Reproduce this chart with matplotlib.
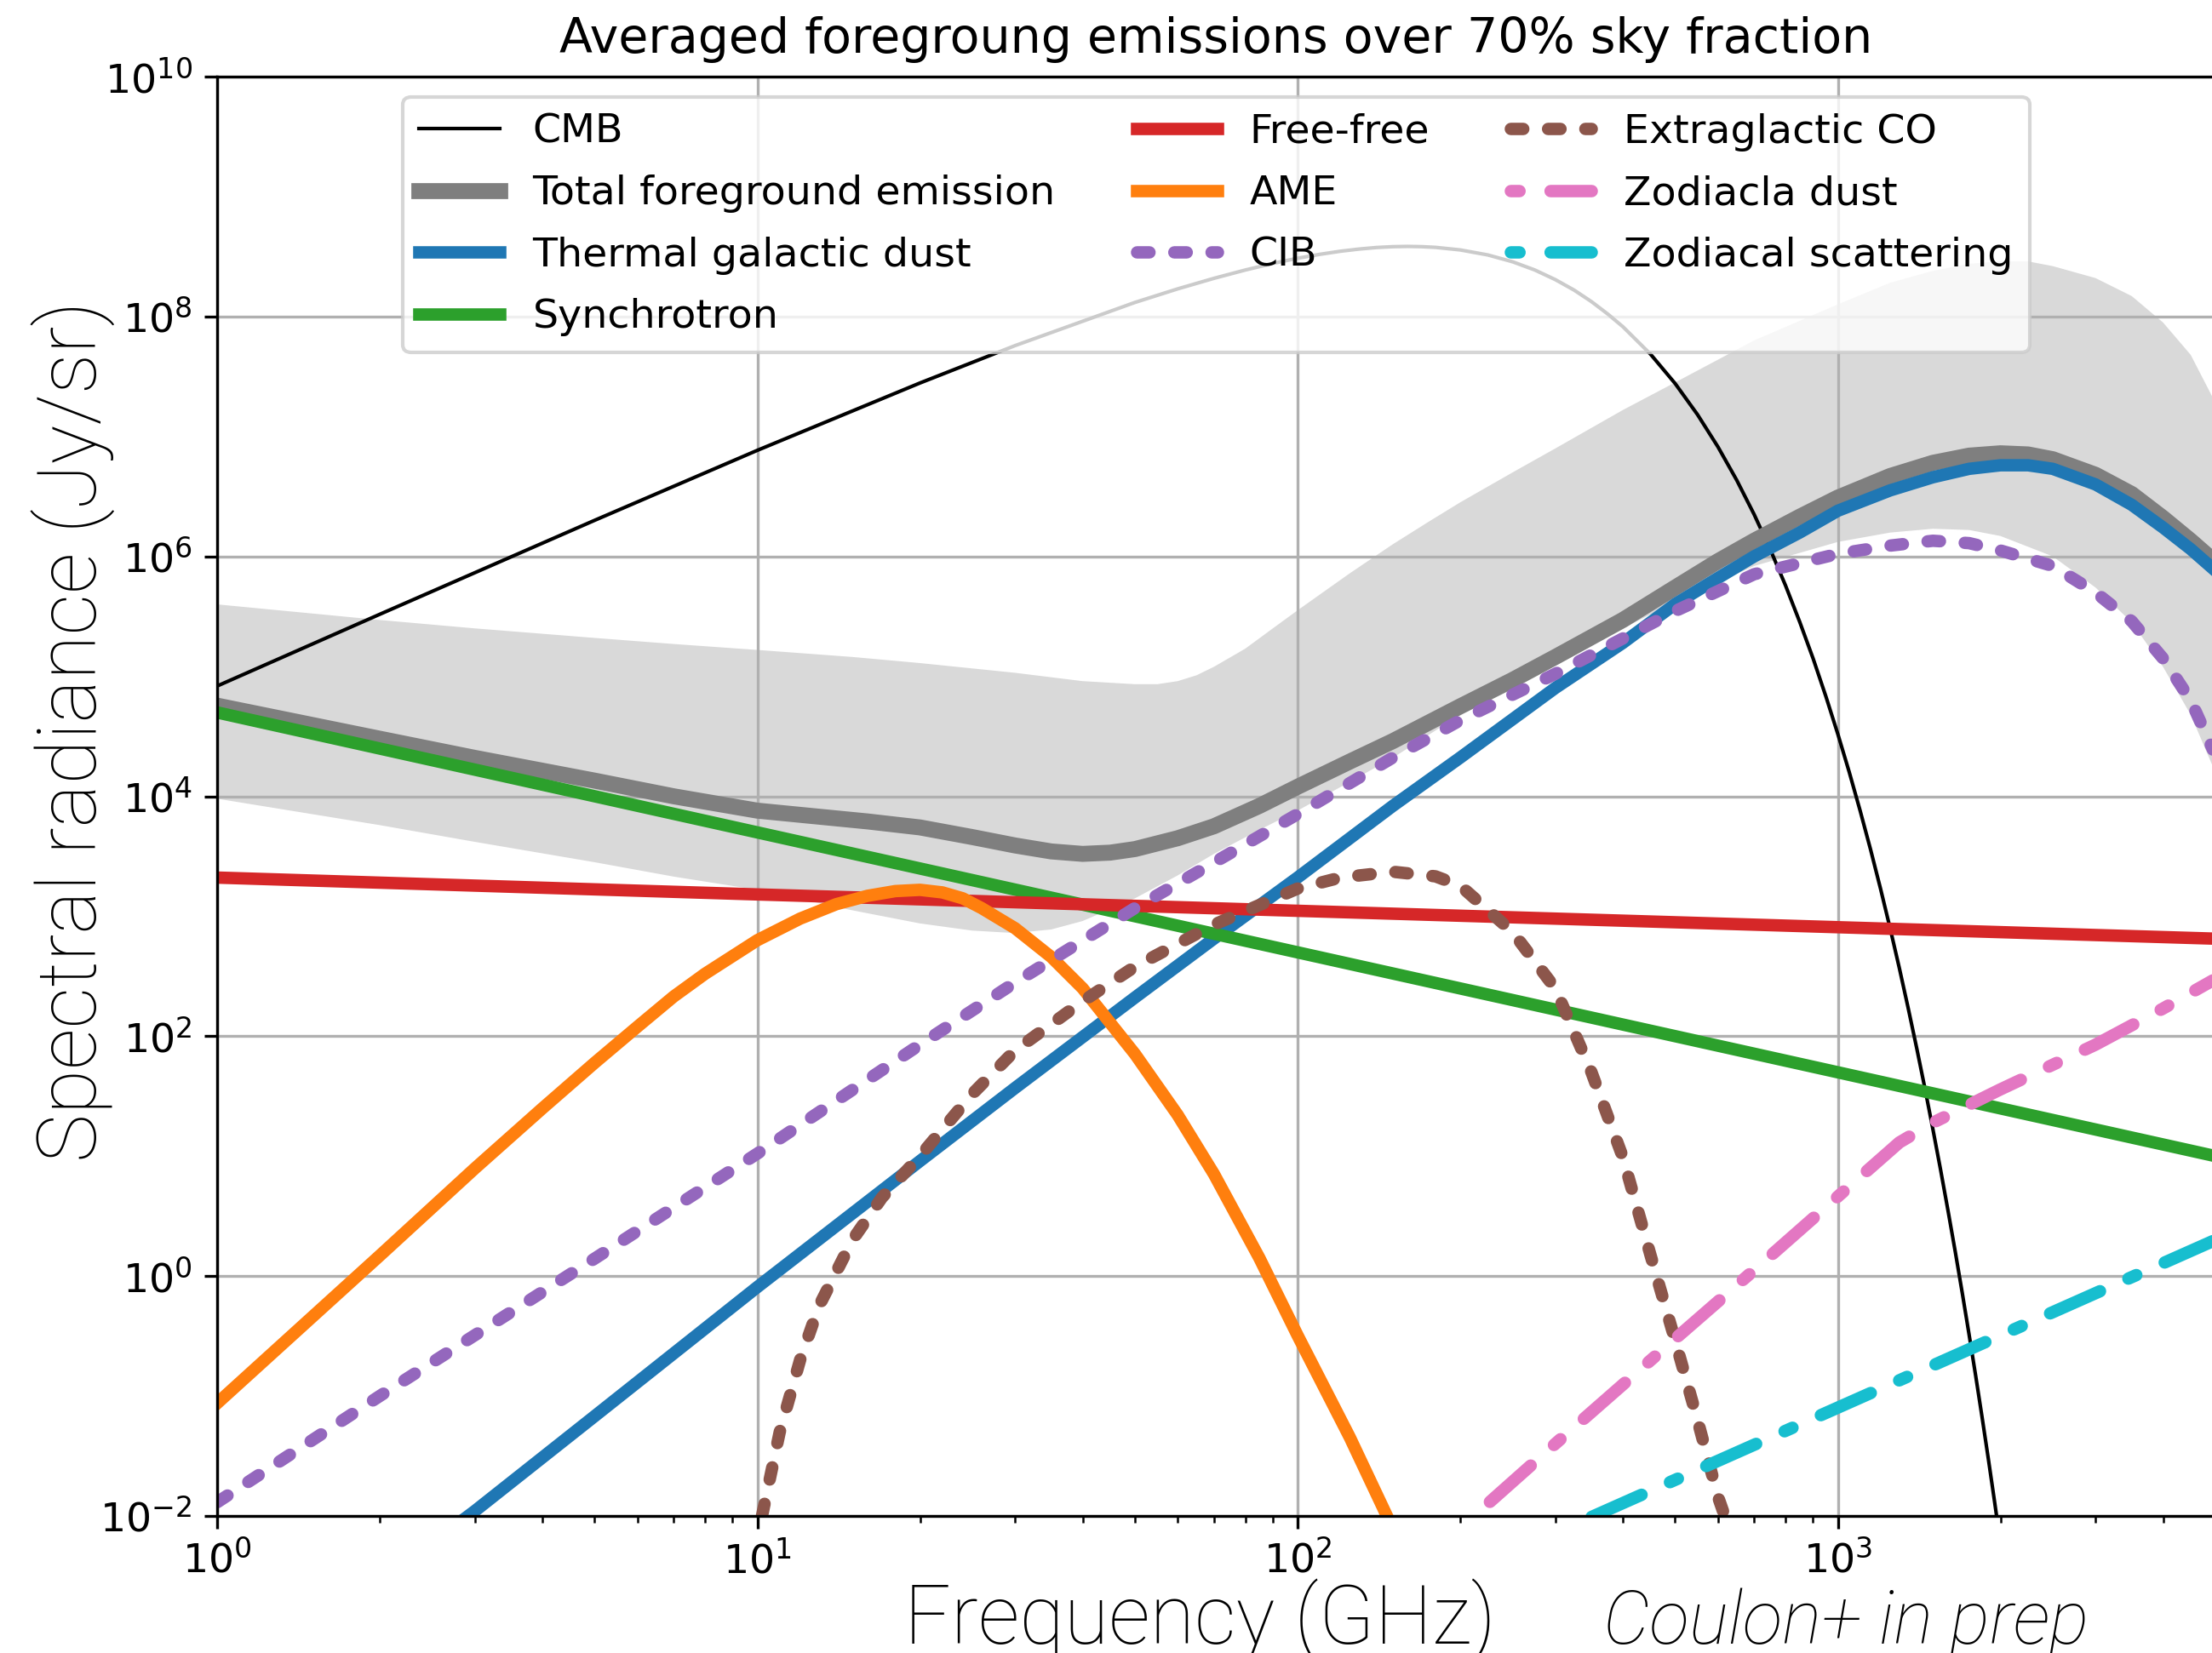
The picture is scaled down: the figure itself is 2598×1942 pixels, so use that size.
import matplotlib
matplotlib.use("Agg")
import matplotlib.pyplot as plt
from matplotlib import ticker

W, H, DPI = 2598, 1942, 300

# ---------------- data ----------------
cmb_nu = [1, 2, 5, 10, 20, 30, 50, 60, 70, 80, 90, 100, 110, 120, 130, 140, 150, 160, 170,
          180, 200, 225, 250, 275, 300, 325, 350, 375, 400, 450, 500, 550, 600, 650, 700,
          750, 800, 850, 900, 950, 1000, 1050, 1100, 1150, 1200, 1250, 1300, 1350, 1400,
          1450, 1500, 1550, 1600, 1650, 1700, 1750, 1800, 1850, 1900, 1950, 2000]
cmb_val = [8.30e4, 3.29e5, 2.00e6, 7.66e6, 2.79e7, 5.72e7, 1.31e8, 1.70e8, 2.08e8, 2.44e8,
           2.77e8, 3.06e8, 3.30e8, 3.50e8, 3.65e8, 3.76e8, 3.82e8, 3.84e8, 3.82e8,
           3.77e8, 3.59e8, 3.26e8, 2.86e8, 2.44e8, 2.03e8, 1.66e8, 1.33e8, 1.05e8, 8.23e7,
           4.86e7, 2.76e7, 1.52e7, 8.19e6, 4.32e6, 2.24e6, 1.14e6, 5.74e5, 2.85e5, 1.41e5,
           6.85e4, 3.31e4, 1.59e4, 7.57e3, 3.59e3, 1.69e3, 791, 369, 171, 79.2,
           36.5, 16.7, 7.66, 3.49, 1.59, 0.720, 0.325, 0.147, 0.0661, 0.0297, 0.0133, 5.95e-3]

tot_nu = [1, 2, 3, 5, 7, 10, 13, 16, 20, 25, 30, 35, 40, 45, 50, 60, 70, 85, 100, 125, 150,
          200, 250, 300, 400, 500, 600, 700, 850, 1000, 1250, 1500, 1750, 2000, 2250, 2500,
          3000, 3500, 4000, 4500, 5000]
tot_val = [5.70e4, 3.02e4, 2.09e4, 1.35e4, 1.00e4, 7.59e3, 6.76e3, 6.17e3, 5.50e3, 4.57e3,
           3.89e3, 3.47e3, 3.31e3, 3.39e3, 3.63e3, 4.47e3, 5.62e3, 8.32e3, 1.20e4, 1.95e4,
           2.88e4, 5.62e4, 9.33e4, 1.45e5, 2.95e5, 5.50e5, 9.12e5, 1.35e6, 2.14e6, 3.09e6,
           4.68e6, 6.03e6, 6.92e6, 7.24e6, 7.08e6, 6.46e6, 4.79e6, 3.31e6, 2.09e6, 1.35e6,
           8.91e5]

band_hi_nu = [1, 2, 3, 5, 7, 10, 15, 20, 30, 40, 50, 55, 60, 65, 70, 80, 90, 100, 125, 150,
              175, 200, 250, 300, 400, 500, 700, 1000, 1250, 1500, 1750, 2000, 2250, 2500,
              3000, 3500, 4000, 4500, 5000]
band_hi_val = [3.98e5, 2.95e5, 2.51e5, 2.09e5, 1.86e5, 1.66e5, 1.45e5, 1.29e5, 1.07e5,
               9.12e4, 8.60e4, 8.60e4, 9.12e4, 1.02e5, 1.20e5, 1.70e5, 2.51e5, 3.55e5,
               7.24e5, 1.26e6, 1.95e6, 2.82e6, 5.01e6, 7.94e6, 1.66e7, 2.82e7, 6.31e7,
               1.26e8, 1.91e8, 2.40e8, 2.75e8, 2.88e8, 2.88e8, 2.63e8, 2.09e8, 1.48e8,
               8.91e7, 4.79e7, 1.91e7]
band_lo_nu = [1, 2, 3, 5, 7, 10, 15, 20, 25, 30, 35, 40, 50, 60, 70, 85, 100, 125, 150, 200,
              250, 300, 400, 500, 700, 1000, 1250, 1500, 1750, 2000, 2500, 3000, 3500, 4000,
              4500, 5000]
band_lo_val = [9.55e3, 5.75e3, 4.17e3, 2.82e3, 2.14e3, 1.66e3, 1.12e3, 871, 759, 724, 776,
               912, 1.41e3, 2.19e3, 3.31e3, 5.25e3, 7.59e3, 1.32e4, 2.09e4, 4.79e4, 8.32e4,
               1.26e5, 2.51e5, 4.17e5, 8.32e5, 1.32e6, 1.58e6, 1.70e6, 1.66e6, 1.48e6,
               1.00e6, 5.50e5, 2.82e5, 1.20e5, 4.79e4, 1.58e4]

dust_nu = [2, 3, 5, 10, 20, 30, 50, 70, 100, 150, 200, 300, 400, 500, 600, 700, 850, 1000,
           1250, 1500, 1750, 2000, 2250, 2500, 3000, 3500, 4000, 4500, 5000]
dust_val = [2.8e-3, 1.1e-2, 6.8e-2, 0.81, 9.1, 37, 210, 650, 2.1e3, 8.3e3, 2.1e4, 8.0e4,
            1.9e5, 4.0e5, 6.6e5, 1.0e6, 1.58e6, 2.40e6, 3.55e6, 4.57e6, 5.37e6, 5.75e6,
            5.75e6, 5.37e6, 3.98e6, 2.69e6, 1.74e6, 1.15e6, 7.59e5]

sync_nu = [1, 10, 100, 1000, 5000]
sync_val = [5.0e4, 5.0e3, 5.0e2, 50, 10]

ff_nu = [1, 10, 100, 1000, 5000]
ff_val = [2100, 1520, 1110, 810, 650]

ame_nu = [1, 2, 3, 4, 5, 6, 7, 8, 10, 12, 14, 16, 18, 20, 22, 24, 26, 30, 35, 40, 50, 60,
          70, 85, 100, 125, 150]
ame_val = [0.087, 1.48, 7.9, 25, 60, 120, 214, 331, 631, 955, 1.26e3, 1.48e3, 1.62e3,
           1.66e3, 1.58e3, 1.41e3, 1.17e3, 794, 457, 251, 71, 22, 7.1, 1.41, 0.32, 0.045,
           7.9e-3]

cib_nu = [1, 2, 5, 10, 20, 30, 50, 70, 100, 150, 200, 300, 500, 700, 1000, 1250, 1500,
          1750, 2000, 2500, 3000, 3500, 4000, 4500, 5000]
cib_val = [1.3e-2, 0.10, 1.4, 10.5, 85, 280, 1.17e3, 2.8e3, 7.1e3, 2.1e4, 4.3e4, 1.05e5,
           3.5e5, 7.1e5, 1.05e6, 1.23e6, 1.35e6, 1.29e6, 1.12e6, 8.32e5, 5.0e5, 2.88e5,
           1.41e5, 6.31e4, 2.2e4]

co_nu = [10.2, 11, 12, 13, 15, 17, 20, 25, 30, 40, 50, 70, 100, 120, 150, 180, 200, 250,
         300, 350, 400, 450, 500, 550, 600, 640]
co_val = [1.0e-2, 5.0e-2, 0.2, 0.56, 2.0, 4.5, 10, 33, 76, 195, 380, 850, 1.7e3, 2.1e3,
          2.35e3, 2.15e3, 1.8e3, 740, 250, 50, 9.8, 1.5, 0.29, 0.063, 0.0145, 6.3e-3]

zd_nu = [200, 300, 500, 700, 1000, 1300, 1500, 2000, 3000, 4000, 5000]
zd_val = [7.9e-3, 0.04, 0.30, 1.12, 4.6, 13, 19, 36, 85, 170, 300]

zs_nu = [300, 5000]
zs_val = [7.2e-3, 2.0]

labels = ["CMB", "Total foreground emission", "Thermal galactic dust", "Synchrotron",
          "Free-free", "AME", "CIB", "Extraglactic CO", "Zodiacla dust", "Zodiacal scattering"]

title = "Averaged foregroung emissions over 70% sky fraction"
xlabel = "Frequency (GHz)"
ylabel = "Spectral radiance (Jy/sr)"
credit = "Coulon+ in prep"

# ---------------- figure ----------------
fig = plt.figure(figsize=(W / DPI, H / DPI), dpi=DPI)
ax = fig.add_axes([255 / W, 1 - 1781 / H, (2602 - 255) / W, (1781 - 90) / H])
ax.set_xscale("log")
ax.set_yscale("log")

lw = 3.5
dot_ls = (0, (1, 2))
dashdot_ls = (6.9, (4.4, 2.5, 0.7, 2.5))

poly_x = list(band_hi_nu) + list(band_lo_nu)[::-1]
poly_y = list(band_hi_val) + list(band_lo_val)[::-1]
ax.fill(poly_x, poly_y, color="#d9d9d9", lw=0, zorder=1)

ax.plot(cmb_nu, cmb_val, color="black", lw=1.0, label=labels[0])
ax.plot(tot_nu, tot_val, color="tab:gray", lw=4.5, label=labels[1])
ax.plot(dust_nu, dust_val, color="tab:blue", lw=lw, label=labels[2])
ax.plot(sync_nu, sync_val, color="tab:green", lw=lw, label=labels[3])
ax.plot(ff_nu, ff_val, color="tab:red", lw=lw, label=labels[4])
ax.plot(ame_nu, ame_val, color="tab:orange", lw=lw, label=labels[5])
ax.plot(cib_nu, cib_val, color="tab:purple", lw=lw, ls=dot_ls,
        dash_capstyle="round", label=labels[6])
ax.plot(co_nu, co_val, color="tab:brown", lw=lw, ls=dot_ls,
        dash_capstyle="round", label=labels[7])
ax.plot(zd_nu, zd_val, color="tab:pink", lw=lw, ls=dashdot_ls,
        dash_capstyle="round", label=labels[8])
ax.plot(zs_nu, zs_val, color="tab:cyan", lw=lw, ls=dashdot_ls,
        dash_capstyle="round", label=labels[9])

ax.set_xlim(1, 5000)
ax.set_ylim(1e-2, 1e10)
ax.yaxis.set_major_locator(ticker.FixedLocator([1e-2, 1e0, 1e2, 1e4, 1e6, 1e8, 1e10]))
ax.yaxis.set_minor_locator(ticker.NullLocator())
ax.tick_params(labelsize=11.4)
ax.grid(True, which="major")

ax.set_title(title, fontsize=13.7, pad=6.6)

ax.legend(loc="upper center", ncol=3, fontsize=11.4, labelspacing=0.58)

lab_font = dict(family="Roboto", weight="light")
fig.text(1062 / W, 1 - 1931 / H, xlabel, ha="left", va="baseline", size=23, **lab_font)
fig.text(1883 / W, 1 - 1931 / H, credit, ha="left", va="baseline", style="italic",
         size=20.8, **lab_font)
fig.text(113 / W, 1 - 1365 / H, ylabel, rotation=90, rotation_mode="anchor",
         ha="left", va="baseline", size=23, **lab_font)

fig.savefig("out.png", dpi=DPI)
